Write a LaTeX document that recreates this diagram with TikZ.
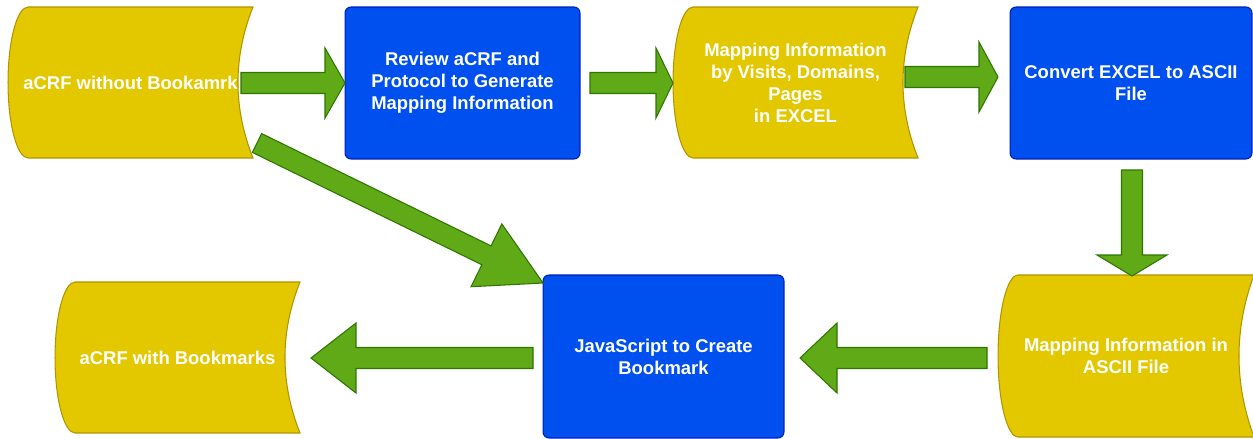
\documentclass[tikz,border=0pt]{standalone}
\usepackage{fontspec}
\setmainfont{Liberation Sans}
\usetikzlibrary{calc,backgrounds}
\definecolor{storefill}{HTML}{E3C800}
\definecolor{storeline}{HTML}{B09500}
\definecolor{procfill}{HTML}{0050EF}
\definecolor{procline}{HTML}{001DBC}
\definecolor{arrowgreen}{HTML}{60A917}
\definecolor{arrowdark}{HTML}{2D7600}
\newcommand\storepath[1]{%
 ($(#1.north west)+(20,0)$) -- (#1.north east)
 .. controls ($(#1.north east)!0.3333!(#1.south east)+(-20,0)$) and ($(#1.south east)!0.3333!(#1.north east)+(-20,0)$) .. (#1.south east)
 -- ($(#1.south west)+(20,0)$)
 .. controls ($(#1.south west)+(9,0)$) and ($(#1.west)!0.5523!(#1.south west)$) .. (#1.west)
 .. controls ($(#1.west)!0.5523!(#1.north west)$) and ($(#1.north west)+(9,0)$) .. ($(#1.north west)+(20,0)$) -- cycle}
\begin{document}
\begin{tikzpicture}[x=0.02cm,y=-0.02cm,
  lbl/.style={text=white, font=\fontsize{10.5}{12.5}\selectfont\bfseries, align=center, inner sep=0pt, outer sep=0pt},
  proc/.style={lbl, draw=procline, fill=procfill, line width=0.6pt, rounded corners=3.4pt},
  store/.style={lbl},
  storeshape/.style={draw=storeline, fill=storefill, line width=0.6pt},
  arrowhl/.store in=\arhl, arrowhl=0.4cm,
  barrow/.style={draw=arrowdark, fill=arrowgreen, line width=0.6pt, line join=miter,
    to path={
      ($(\tikztotarget)!\arhl!(\tikztostart)$) coordinate (hb)
      ($(\tikztostart)!0.21cm!90:(\tikztotarget)$)
      -- ($(hb)!0.21cm!-90:(\tikztostart)$)
      -- ($(hb)!0.7cm!-90:(\tikztostart)$)
      -- (\tikztotarget)
      -- ($(hb)!0.7cm!90:(\tikztostart)$)
      -- ($(hb)!0.21cm!90:(\tikztostart)$)
      -- ($(\tikztostart)!0.21cm!-90:(\tikztotarget)$)
      -- cycle}}]
\useasboundingbox (0,0) rectangle (1253,439);

% nodes
\node[store, minimum width=4.9cm, minimum height=3.02cm] (s1) at (130.5,82.5) {aCRF without Bookamrk};
\node[proc, minimum width=4.7cm, minimum height=3.04cm] (s2) at (462.5,83) {Review aCRF and\\Protocol to Generate\\Mapping Information};
\node[store, minimum width=4.9cm, minimum height=3.02cm] (s3) at (795.5,82.5) {Mapping Information\\by Visits, Domains,\\Pages\\in EXCEL};
\node[proc, minimum width=4.84cm, minimum height=3.04cm] (s4) at (1131,83) {Convert EXCEL to ASCII\\File};
\node[store, minimum width=5.12cm, minimum height=3.24cm] (s5) at (1126,356) {Mapping Information in\\ASCII File};
\node[proc, minimum width=4.82cm, minimum height=3.26cm] (s7) at (663.5,356.5) {JavaScript to Create\\Bookmark};
\node[store, minimum width=4.9cm, minimum height=3.02cm] (s6) at (177.5,357.5) {aCRF with Bookmarks};

\begin{scope}[on background layer]
  \path[storeshape] \storepath{s1};
  \path[storeshape] \storepath{s3};
  \path[storeshape] \storepath{s5};
  \path[storeshape] \storepath{s6};
\end{scope}

% arrow end points
\coordinate (a1s) at (241,83);   \coordinate (a1e) at (345,83);
\coordinate (a2s) at (590,83);   \coordinate (a2e) at (673,83);
\coordinate (a3s) at (905,77);   \coordinate (a3e) at (998,77);
\coordinate (a4s) at (1132,170); \coordinate (a4e) at (1132,276);
\coordinate (a5s) at (987,358);  \coordinate (a5e) at (800,358);
\coordinate (a6s) at (533,358);  \coordinate (a6e) at (311,358);
\coordinate (a7s) at (257,143);  \coordinate (a7e) at (543,283);

\draw[barrow, arrowhl=0.4cm]  (a1s) to (a1e);
\draw[barrow, arrowhl=0.34cm] (a2s) to (a2e);
\draw[barrow, arrowhl=0.38cm] (a3s) to (a3e);
\draw[barrow, arrowhl=0.42cm] (a4s) to (a4e);
\draw[barrow, arrowhl=0.74cm] (a5s) to (a5e);
\draw[barrow, arrowhl=0.9cm]  (a6s) to (a6e);
\draw[barrow, arrowhl=1.26cm] (a7s) to (a7e);
\end{tikzpicture}
\end{document}
